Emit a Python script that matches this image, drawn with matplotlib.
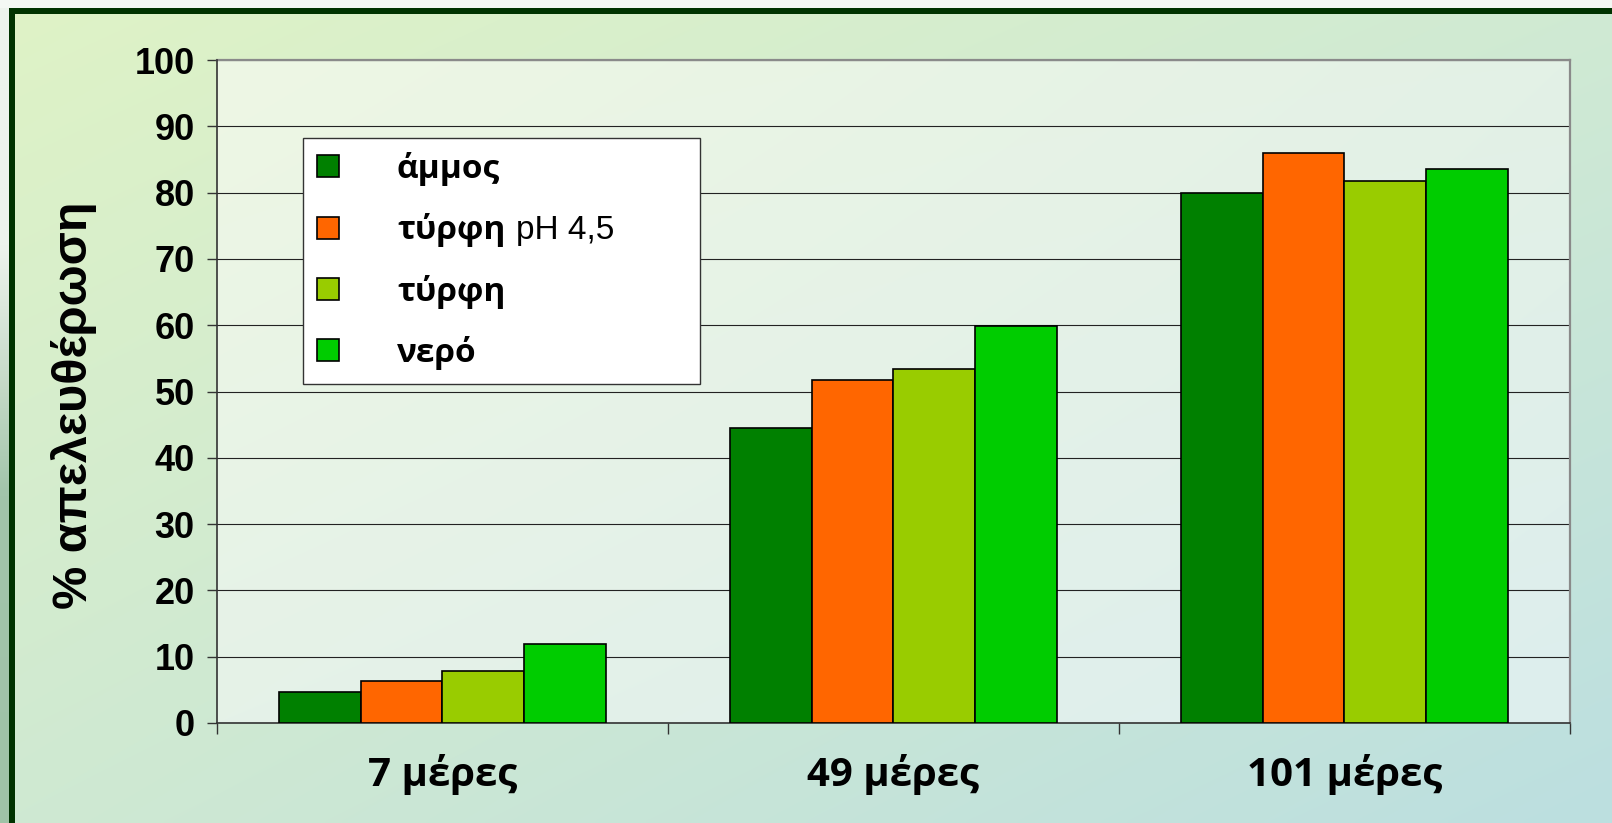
import numpy as np
import matplotlib
matplotlib.use("Agg")
import matplotlib.pyplot as plt
from matplotlib.patches import Patch, Rectangle
from matplotlib.colors import to_rgb
from matplotlib.transforms import IdentityTransform
from matplotlib.font_manager import FontProperties

# ---- data ----
categories = ["7 μέρες", "49 μέρες", "101 μέρες"]
series_names = ["άμμος", "τύρφη", "τύρφη", "νερό"]
series_suffix = ["", "pH 4,5", "", ""]
ammos = [4.7, 44.5, 80.0]
tyrfi_ph = [6.3, 51.7, 85.9]
tyrfi = [7.8, 53.4, 81.7]
nero = [11.9, 59.9, 83.6]
series_values = [ammos, tyrfi_ph, tyrfi, nero]
series_colors = ["#008000", "#FF6600", "#99CC00", "#00CC00"]
yticks = list(range(0, 101, 10))
ylabel = "% απελευθέρωση"

W, H, DPI = 1612, 823, 100
fig = plt.figure(figsize=(W / DPI, H / DPI), dpi=DPI)

def diag_gradient(c_tl, c_tr, c_bl, c_br, n=200):
    a = np.array([to_rgb(c) for c in (c_tl, c_tr, c_bl, c_br)])
    u = np.linspace(0, 1, n)[None, :, None]
    v = np.linspace(0, 1, n)[:, None, None]
    top = a[0] * (1 - u) + a[1] * u
    bot = a[2] * (1 - u) + a[3] * u
    return top * (1 - v) + bot * v

# figure background
bg = fig.add_axes([0, 0, 1, 1], zorder=-10)
bg.set_axis_off()
bg.set_xlim(0, W)
bg.set_ylim(H, 0)
bg.imshow(diag_gradient("#dff3c6", "#d0ead3", "#cfe9d2", "#bcdfe0"),
          extent=(0, W, H, 0), aspect="auto", interpolation="bilinear")
# outside slide area (white top strip, left strip)
bg.add_patch(Rectangle((0, 0), W, 8, color="#f4f8f4", lw=0))
strip = np.ones((200, 1, 3))
strip_col = np.array([to_rgb(c) for c in ["#edf3ed", "#edf3ed", "#c9dccb", "#a2c5aa", "#9fc3a7"]])
pos = np.linspace(0, 1, 200)
for k in range(3):
    strip[:, 0, k] = np.interp(pos, [0, 0.3, 0.45, 0.6, 1], strip_col[:, k])
bg.imshow(strip, extent=(0, 9, H, 0), aspect="auto", interpolation="bilinear")
bg.add_patch(Rectangle((9, 8), W - 9, 6, color="#003300", lw=0))
bg.add_patch(Rectangle((9, 8), 6, H - 8, color="#003300", lw=0))

# main axes
L, R, T, B = 217, 1570, 60, 723
ax = fig.add_axes([L / W, 1 - B / H, (R - L) / W, (B - T) / H])
ax.patch.set_alpha(0)
ax.imshow(diag_gradient("#eef7e4", "#e3f1e6", "#e5f2e8", "#ddeeee"),
          extent=(0, 1, 0, 1), transform=ax.transAxes, aspect="auto",
          interpolation="bilinear", zorder=0.1)

n_series = len(series_values)
bw = 0.1817
x = np.arange(len(categories))
for j, (vals, col) in enumerate(zip(series_values, series_colors)):
    ax.bar(x + (j - (n_series - 1) / 2) * bw, vals, width=bw, color=col,
           edgecolor="black", linewidth=1.2, zorder=3)

ax.set_xlim(-0.5, len(categories) - 0.5)
ax.set_ylim(0, 100)
ax.set_yticks(yticks)
ax.set_yticklabels([str(t) for t in yticks], fontsize=26, fontweight="bold",
                   family="Liberation Sans")
ax.tick_params(axis="y", length=7, width=1, color="#333333", pad=9, direction="out")
ax.yaxis.grid(True, color="#222222", linewidth=0.8, zorder=1)
ax.set_axisbelow(True)

ax.set_xticks(np.arange(-0.5, len(categories), 1.0))
ax.set_xticklabels([])
ax.tick_params(axis="x", which="major", length=8, width=1, color="#333333", direction="out")
ax.set_xticks(x, minor=True)
ax.set_xticklabels(categories, minor=True, fontsize=29, fontweight="bold",
                   family="Open Sans")
ax.tick_params(axis="x", which="minor", length=0, pad=22)

for s in ["left", "bottom"]:
    ax.spines[s].set_color("#333333")
    ax.spines[s].set_linewidth(1.2)
for s in ["top", "right"]:
    ax.spines[s].set_color("#8a8a8a")
    ax.spines[s].set_linewidth(1.6)
ax.spines["left"].set_zorder(4)

ax.set_ylabel(ylabel, fontsize=35, fontweight="bold", family="Liberation Sans")
ax.yaxis.set_label_coords(-0.0887, 0.48)

# legend
handles = [Patch(facecolor=c, edgecolor="black", linewidth=1.2) for c in series_colors]
leg = ax.legend(handles, series_names, loc="upper left",
                bbox_to_anchor=((303 - L) / (R - L), (B - 138) / (B - T),
                                (700 - 303) / (R - L), 0.0),
                mode="expand", borderaxespad=0, frameon=True, fancybox=False,
                prop=FontProperties(family="Open Sans", weight="bold", size=24),
                handlelength=0.65, handleheight=0.65, handletextpad=1.75,
                labelspacing=0.82, borderpad=0.42)
leg.get_frame().set_edgecolor("#333333")
leg.get_frame().set_linewidth(1.0)
leg.get_frame().set_facecolor("white")
leg.get_frame().set_alpha(1)
leg.set_zorder(5)

fig.canvas.draw()
renderer = fig.canvas.get_renderer()
for t, suf in zip(leg.get_texts(), series_suffix):
    if not suf:
        continue
    bb = t.get_window_extent(renderer)
    _, _, d = renderer.get_text_width_height_descent("lp", t.get_fontproperties(), ismath=False)
    fig.text(bb.x1 + 11, bb.y0 + d, suf, transform=IdentityTransform(),
             fontsize=24, family="Liberation Sans", va="baseline", ha="left", zorder=10)

fig.savefig("out.png", dpi=DPI)
